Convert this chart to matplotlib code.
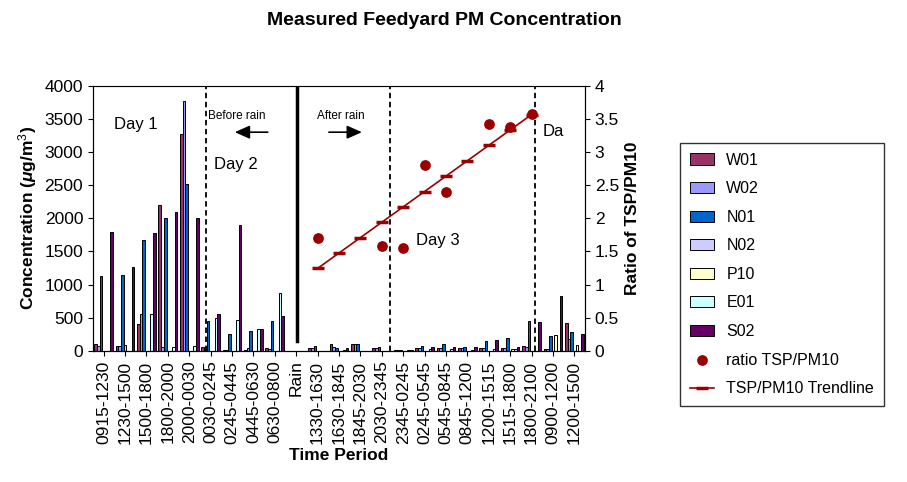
import matplotlib
matplotlib.use("Agg")
import matplotlib.pyplot as plt
import numpy as np
plt.rcParams['font.family'] = ['Liberation Sans', 'DejaVu Sans']
plt.rcParams['mathtext.fontset'] = 'custom'
plt.rcParams['mathtext.rm'] = 'Liberation Sans'
plt.rcParams['mathtext.bf'] = 'Liberation Sans:bold'
plt.rcParams['mathtext.it'] = 'Liberation Sans:italic:bold'

cats = ["0915-1230","1230-1500","1500-1800","1800-2000","2000-0030","0030-0245","0245-0445",
        "0445-0630","0630-0800","Rain","1330-1630","1630-1845","1845-2030","2030-2345","2345-0245",
        "0245-0545","0545-0845","0845-1200","1200-1515","1515-1800","1800-2100","0900-1200","1200-1500"]
W01 = [100,70,400,2200,3280,60,20,20,40,0,40,100,100,40,20,40,40,40,40,40,80,30,420]
W02 = [80,70,560,60,3770,60,20,40,30,0,40,60,100,40,20,40,40,40,40,40,60,30,180]
N01 = [1130,1150,1680,2000,2520,450,250,300,450,0,80,40,100,60,20,80,100,60,150,200,450,230,280]
N02 = [0,90,0,0,0,0,0,0,0,0,0,0,0,0,0,0,0,0,0,0,0,0,0]
P10 = [0,0,0,0,0,0,0,0,0,0,0,0,0,0,0,0,0,0,0,30,0,240,90]
E01 = [0,0,560,60,70,500,470,330,870,0,0,20,0,0,20,30,30,20,30,30,0,0,0]
S02 = [1800,1260,1780,2100,2000,550,1900,330,530,0,0,40,0,0,20,60,60,60,160,60,440,830,250]
ratio_idx = [10,13,14,15,16,18,19,20]
ratio_val = [1.7,1.58,1.55,2.8,2.4,3.42,3.38,3.57]

series = [("W01",W01,"#993366"),("W02",W02,"#9999FF"),("N01",N01,"#0066CC"),("N02",N02,"#CCCCFF"),
          ("P10",P10,"#FFFFCC"),("E01",E01,"#CCFFFF"),("S02",S02,"#660066")]

fig = plt.figure(figsize=(9.07,4.82), dpi=100)
ax = fig.add_axes([0.1025,0.272,0.5425,0.55])
x = np.arange(len(cats))
w = 0.125
handles = []
for k,(name,vals,col) in enumerate(series):
    b = ax.bar(x + (k-3)*w, vals, w, color=col, edgecolor="black", linewidth=0.7, label=name)
    handles.append(b)
ax.set_xlim(-0.5, len(cats)-0.5)
ax.set_ylim(0,4000)
ax.set_yticks(range(0,4001,500))
ax.set_xticks(x)
ax.set_xticklabels(cats, rotation=90, fontsize=12.5)
ax.tick_params(axis='y', labelsize=12.5)
ax.set_ylabel("Concentration ($\\mathit{\\mu}$g/m$^3$)", fontsize=12.5, fontweight="bold")
ax.set_xlabel("Time Period", fontsize=12.5, fontweight="bold", labelpad=3)
ax.spines["top"].set_color("#999999")

ax2 = ax.twinx()
ax2.set_ylim(0,4)
ax2.set_yticks(np.arange(0,4.01,0.5))
ax2.set_yticklabels(["0","0.5","1","1.5","2","2.5","3","3.5","4"], fontsize=12.5)
ax2.set_ylabel("Ratio of TSP/PM10", fontsize=12.5, fontweight="bold")
sc = ax2.scatter(ratio_idx, ratio_val, s=45, color="#990000", zorder=5, label="ratio TSP/PM10")
p = np.polyfit(ratio_idx, ratio_val, 1)
tx = np.arange(10,21)
ln, = ax2.plot(tx, np.polyval(p, tx), color="#990000", lw=1.2, marker="_", ms=8, mew=2.5, label="TSP/PM10 Trendline")

for xv in [4.8, 13.4, 20.15]:
    ax2.axvline(xv, ymin=0, ymax=1, color="black", ls=(0,(3,2)), lw=1.3)
ax2.plot([9.03,9.03],[0.15,4.0], color="black", lw=2.5)
ax2.text(1.5,3.35,"Day 1", fontsize=12, ha="center")
ax2.text(6.2,3.5,"Before rain", fontsize=8.5, ha="center")
ax2.text(6.2,2.75,"Day 2", fontsize=12, ha="center")
ax2.text(11.1,3.5,"After rain", fontsize=8.5, ha="center")
ax2.text(15.6,1.6,"Day 3", fontsize=12, ha="center")
ax2.text(20.5,3.25,"Da", fontsize=12, ha="left")
ax2.annotate("", xy=(6.0,3.3), xytext=(7.8,3.3), arrowprops=dict(arrowstyle="-|>,head_width=0.4,head_length=0.9", color="black", lw=1.2))
ax2.annotate("", xy=(12.2,3.3), xytext=(10.4,3.3), arrowprops=dict(arrowstyle="-|>,head_width=0.4,head_length=0.9", color="black", lw=1.2))

fig.suptitle("Measured Feedyard PM Concentration", x=0.49, y=0.975, fontsize=14, fontweight="bold")
leg = fig.legend(handles+[sc,ln], [h.get_label() for h in handles]+["ratio TSP/PM10","TSP/PM10 Trendline"],
                 loc="upper left", bbox_to_anchor=(0.741,0.72), fontsize=11.5, frameon=True,
                 fancybox=False, edgecolor="black", labelspacing=0.85, handlelength=1.5,
                 borderpad=0.6)
fig.savefig("out.png", dpi=100)
